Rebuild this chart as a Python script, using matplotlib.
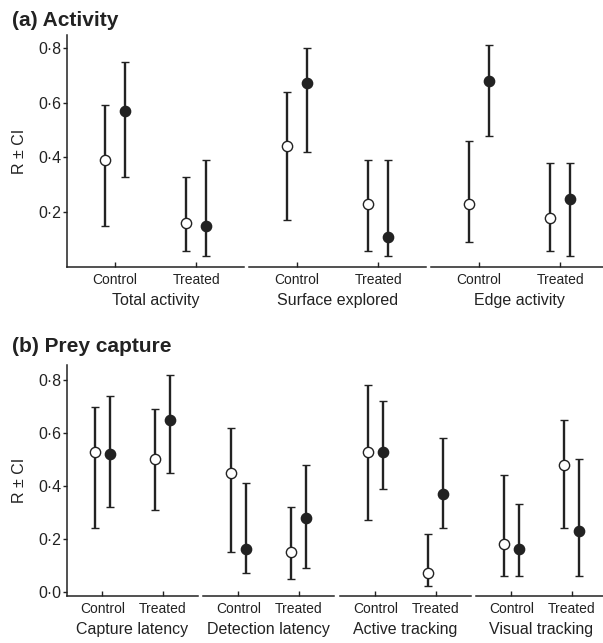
import matplotlib
matplotlib.use("Agg")
import matplotlib.pyplot as plt
from matplotlib.ticker import FixedLocator, FixedFormatter

plt.rcParams['font.family'] = ['Liberation Sans', 'DejaVu Sans']

# ---------------- data ----------------
conditions = ["Control", "Treated"]

# Panel (a) Activity
a_groups = ["Total activity", "Surface explored", "Edge activity"]
a_open_mean = [[0.39, 0.16], [0.44, 0.23], [0.23, 0.18]]
a_open_lo = [[0.15, 0.06], [0.17, 0.06], [0.09, 0.06]]
a_open_hi = [[0.59, 0.33], [0.64, 0.39], [0.46, 0.38]]
a_fill_mean = [[0.57, 0.15], [0.67, 0.11], [0.68, 0.25]]
a_fill_lo = [[0.33, 0.04], [0.42, 0.04], [0.48, 0.04]]
a_fill_hi = [[0.75, 0.39], [0.80, 0.39], [0.81, 0.38]]
a_yticks = [0.2, 0.4, 0.6, 0.8]
a_yticklabels = ["0·2", "0·4", "0·6", "0·8"]

# Panel (b) Prey capture
b_groups = ["Capture latency", "Detection latency", "Active tracking", "Visual tracking"]
b_open_mean = [[0.53, 0.50], [0.45, 0.15], [0.53, 0.07], [0.18, 0.48]]
b_open_lo = [[0.24, 0.31], [0.15, 0.05], [0.27, 0.02], [0.06, 0.24]]
b_open_hi = [[0.70, 0.69], [0.62, 0.32], [0.78, 0.22], [0.44, 0.65]]
b_fill_mean = [[0.52, 0.65], [0.16, 0.28], [0.53, 0.37], [0.16, 0.23]]
b_fill_lo = [[0.32, 0.45], [0.07, 0.09], [0.39, 0.24], [0.06, 0.06]]
b_fill_hi = [[0.74, 0.82], [0.41, 0.48], [0.72, 0.58], [0.33, 0.50]]
b_yticks = [0.0, 0.2, 0.4, 0.6, 0.8]
b_yticklabels = ["0·0", "0·2", "0·4", "0·6", "0·8"]

# ---------------- style ----------------
W, H = 603, 643
ink = "#222222"
fig = plt.figure(figsize=(W / 100, H / 100), dpi=100)


def px_axes(left, top, width, height):
    return fig.add_axes([left / W, 1 - (top + height) / H, width / W, height / H])


def draw_panel(lefts, width, top, height, ylim, groups, om, olo, ohi, fm, flo, fhi,
               yticks, yticklabels):
    off = 0.125
    xs = list(range(len(conditions)))
    axes = []
    for gi, left in enumerate(lefts):
        ax = px_axes(left, top, width, height)
        axes.append(ax)
        ax.set_xlim(-0.59, 1.59)
        ax.set_ylim(*ylim)
        for sp in ("top", "right"):
            ax.spines[sp].set_visible(False)
        ax.spines["bottom"].set_linewidth(1.1)
        ax.spines["bottom"].set_color(ink)
        ax.spines["left"].set_linewidth(1.1)
        ax.spines["left"].set_color(ink)
        ax.set_xticks(xs)
        ax.set_xticklabels(conditions, fontsize=10, color=ink)
        ax.tick_params(axis="x", direction="in", length=3.6, width=1.0, color=ink, pad=4.5)
        ax.set_xlabel(groups[gi], fontsize=11.5, color=ink, labelpad=4)
        if gi == 0:
            ax.yaxis.set_major_locator(FixedLocator(yticks))
            ax.yaxis.set_major_formatter(FixedFormatter(yticklabels))
            ax.tick_params(axis="y", direction="out", length=2.6, width=1.0,
                           color=ink, pad=1.5, labelsize=11.5, labelcolor=ink)
            ax.set_ylabel("R ± CI", fontsize=11.5, color=ink)
            ax.yaxis.set_label_coords(-40.0 / width, 0.5)
        else:
            ax.spines["left"].set_visible(False)
            ax.set_yticks([])
        ox = [x - off for x in xs]
        fx = [x + off for x in xs]
        oerr = [[m - l for m, l in zip(om[gi], olo[gi])],
                [h - m for m, h in zip(om[gi], ohi[gi])]]
        ferr = [[m - l for m, l in zip(fm[gi], flo[gi])],
                [h - m for m, h in zip(fm[gi], fhi[gi])]]
        ax.errorbar(ox, om[gi], yerr=oerr, fmt="o", ms=7.4, mfc="white", mec=ink,
                    mew=1.0, ecolor=ink, elinewidth=1.7, capsize=2.9, capthick=1.5,
                    clip_on=False, zorder=3)
        ax.errorbar(fx, fm[gi], yerr=ferr, fmt="o", ms=7.4, mfc=ink, mec=ink,
                    mew=1.0, ecolor=ink, elinewidth=1.7, capsize=2.9, capthick=1.5,
                    clip_on=False, zorder=3)
    return axes


draw_panel([67, 249, 431], 177, 35, 232, (0.0, 0.847), a_groups,
           a_open_mean, a_open_lo, a_open_hi, a_fill_mean, a_fill_lo, a_fill_hi,
           a_yticks, a_yticklabels)
draw_panel([67, 203, 340, 476], 131, 365, 230.7, (-0.015, 0.857), b_groups,
           b_open_mean, b_open_lo, b_open_hi, b_fill_mean, b_fill_lo, b_fill_hi,
           b_yticks, b_yticklabels)

fig.text(12 / W, 1 - 26.5 / H, "(a) Activity", fontsize=15, fontweight="bold",
         color=ink, va="baseline", ha="left")
fig.text(12 / W, 1 - 351.5 / H, "(b) Prey capture", fontsize=15, fontweight="bold",
         color=ink, va="baseline", ha="left")

fig.savefig("out.png", dpi=100)
